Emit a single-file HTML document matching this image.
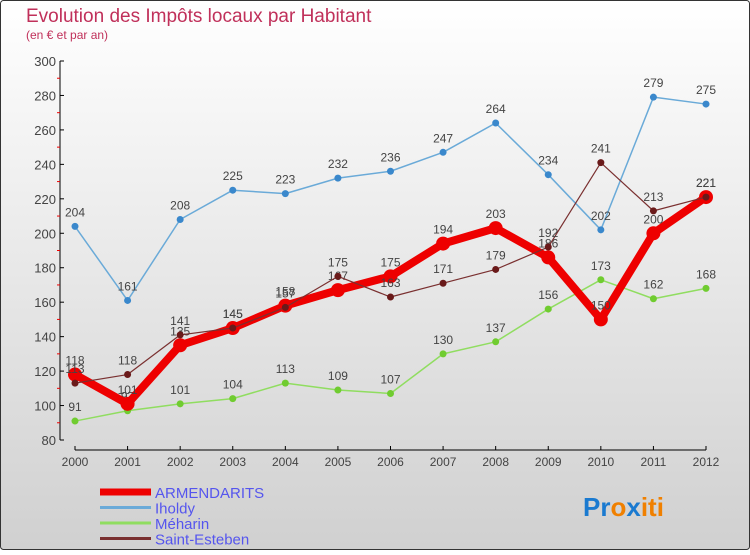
<!DOCTYPE html>
<html><head><meta charset="utf-8"><style>
html,body{margin:0;padding:0}
body{width:750px;height:550px;overflow:hidden;font-family:"Liberation Sans",sans-serif}
</style></head><body>
<svg id="chart" width="750" height="550" xmlns="http://www.w3.org/2000/svg">
<defs><linearGradient id="bg" x1="0" y1="0" x2="0" y2="1"><stop offset="0" stop-color="#ffffff"/><stop offset="1" stop-color="#d0d0d0"/></linearGradient></defs>
<rect x="0.5" y="0.5" width="749" height="549" fill="url(#bg)" stroke="#333" rx="3"/>
<text x="26" y="22" font-size="19" fill="#c0305a">Evolution des Impôts locaux par Habitant</text>
<text x="26" y="39" font-size="12" fill="#c0305a">(en € et par an)</text>
<g id="axes"></g><g id="series"></g><g id="legend"></g>
<text x="583" y="516" font-size="26" font-weight="bold"><tspan fill="#1a7ad0">Pr</tspan><tspan fill="#f08000">o</tspan><tspan fill="#1a7ad0">x</tspan><tspan fill="#f08000">iti</tspan></text>
</svg>
<script>
const years=[2000,2001,2002,2003,2004,2005,2006,2007,2008,2009,2010,2011,2012];
const armendarits=[118,101,135,145,158,167,175,194,203,186,150,200,221];
const iholdy=[204,161,208,225,223,232,236,247,264,234,202,279,275];
const meharin=[91,97,101,104,113,109,107,130,137,156,173,162,168];
const saintEsteben=[113,118,141,145,157,175,163,171,179,192,241,213,221];
const yTicks=[80,100,120,140,160,180,200,220,240,260,280,300];
const NS="http://www.w3.org/2000/svg";
const X=i=>75+i*(706-75)/(years.length-1);
const Y=v=>440-(v-80)*(440-61)/220;
function mk(tag,attrs,parent){const e=document.createElementNS(NS,tag);for(const k in attrs)e.setAttribute(k,attrs[k]);parent.appendChild(e);return e;}
const ax=document.getElementById('axes');
let l=mk('line',{x1:60,y1:61,x2:60,y2:440,stroke:'#000'},ax);


yTicks.forEach((v,i)=>{
  mk('line',{x1:60,y1:Y(v),x2:64,y2:Y(v),stroke:'#000'},ax);
  if(i<yTicks.length-1) mk('line',{x1:57,y1:Y(v+10),x2:60,y2:Y(v+10),stroke:'#e00'},ax);
  const t=mk('text',{x:56,y:Y(v)+5,'text-anchor':'end','font-size':13,fill:'#444'},ax);
  
  
  t.textContent=v;
});
l=mk('line',{x1:75,y1:450,x2:706,y2:450,stroke:'#000'},ax);


years.forEach((y,i)=>{
  mk('line',{x1:X(i),y1:446,x2:X(i),y2:450,stroke:'#000'},ax);
  const t=mk('text',{x:X(i),y:466,'text-anchor':'middle','font-size':12,fill:'#444'},ax);
  
  
  t.textContent=y;
});
const series=[
 {name:'meharin',label:'Méharin',data:meharin,color:'#90dd60',dot:'#70cc30',w:1.5,r:3.5},
 {name:'iholdy',label:'Iholdy',data:iholdy,color:'#6aaad8',dot:'#3a88cc',w:1.5,r:3.5},
 {name:'armendarits',label:'ARMENDARITS',data:armendarits,color:'#ee0000',dot:'#ee0000',w:8,r:7},
 {name:'saint-esteben',label:'Saint-Esteben',data:saintEsteben,color:'#7a3030',dot:'#6a1a1a',w:1.2,r:3.5}
];
const sg=document.getElementById('series');
series.forEach(s=>{
  const g=mk('g',{},sg);
  
  
  const p=mk('polyline',{points:s.data.map((v,i)=>X(i)+','+Y(v)).join(' '),fill:'none',stroke:s.color,'stroke-width':s.w,'stroke-linejoin':'round'},g);
  
  
  s.data.forEach((v,i)=>{
    const c=mk('circle',{cx:X(i),cy:Y(v),r:s.r,fill:s.dot},g);
    
    
    const t=mk('text',{x:X(i),y:Y(v)-10,'text-anchor':'middle','font-size':12,fill:'#444'},g);
    
    
    t.textContent=v;
  });
});
const lg=document.getElementById('legend');
const order=[2,1,0,3];
order.forEach((si,k)=>{
  const s=series[si];const y=492+k*15.5;
  const ln=mk('line',{x1:100,y1:y,x2:151,y2:y,stroke:s.color,'stroke-width':si===2?7:3},lg);
  
  
  const t=mk('text',{x:155,y:y+6,'font-size':15,fill:'#5555ee'},lg);
  
  
  t.textContent=s.label;
});
</script>
</body></html>
